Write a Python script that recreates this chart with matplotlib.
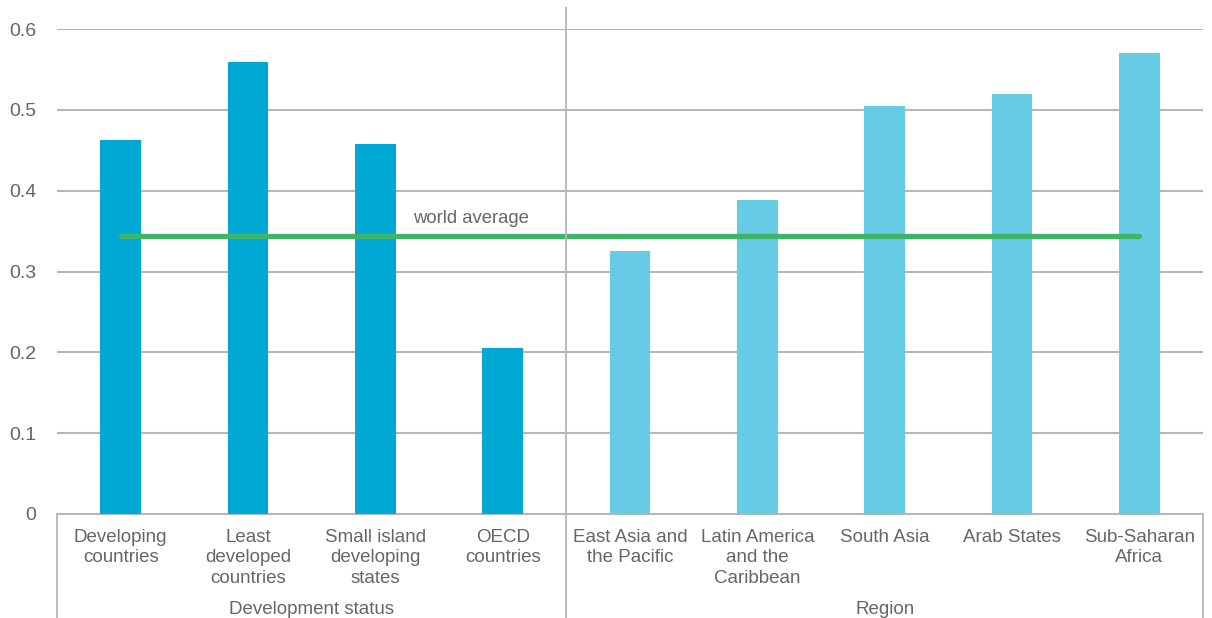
import matplotlib
matplotlib.use("Agg")
import matplotlib.pyplot as plt
from matplotlib.lines import Line2D

# values
categories = ["Developing\ncountries", "Least\ndeveloped\ncountries", "Small island\ndeveloping\nstates",
              "OECD\ncountries", "East Asia and\nthe Pacific", "Latin America\nand the\nCaribbean",
              "South Asia", "Arab States", "Sub-Saharan\nAfrica"]
values = [0.463, 0.559, 0.458, 0.205, 0.325, 0.389, 0.505, 0.519, 0.570]
groups = ["Development status", "Region"]
group_sizes = [4, 5]
world_average = 0.344
yticks = [0, 0.1, 0.2, 0.3, 0.4, 0.5, 0.6]

plt.rcParams['font.family'] = ['Liberation Sans', 'DejaVu Sans']
text_color = "#666666"
line_color = "#b4b8bb"

fig = plt.figure(figsize=(12.12, 6.18), dpi=100)
ax = fig.add_axes([57 / 1212, 104 / 618, 1146 / 1212, 485 / 618])

colors = ["#00a9d4"] * group_sizes[0] + ["#66cbe4"] * group_sizes[1]
x = list(range(len(categories)))
ax.bar(x, values, width=0.32, color=colors, zorder=2)
ax.plot([x[0], x[-1]], [world_average, world_average], color="#3fb468", lw=3.8,
        solid_capstyle="round", zorder=3)
ax.text(2.75, world_average + 0.011, "world average", ha="center", va="bottom",
        fontsize=13.3, color=text_color)

ax.set_xlim(-0.5, len(categories) - 0.5)
ax.set_ylim(0, 0.6)
ax.set_yticks(yticks)
ax.set_yticklabels([f"{t:g}" for t in yticks], fontsize=14, color=text_color)
ax.tick_params(axis="y", length=0, pad=15)
ax.set_xticks([])
ax.grid(axis="y", color=line_color, lw=1.5, zorder=0)
for s in ["top", "right", "left"]:
    ax.spines[s].set_visible(False)
ax.spines["bottom"].set_color(line_color)
ax.spines["bottom"].set_zorder(4)

# category labels
for i, c in enumerate(categories):
    ax.text(i, -0.018, c, ha="center", va="top", fontsize=13.5, color=text_color,
            linespacing=1.3)

# group labels and dividers
start = 0
bounds = [-0.5]
for g, n in zip(groups, group_sizes):
    mid = start + (n - 1) / 2
    ax.text(mid, -0.118, g, ha="center", va="center", fontsize=13.5, color=text_color)
    start += n
    bounds.append(start - 0.5)

for i, b in enumerate(bounds):
    xf = ax.transData.transform((b, 0))[0] / fig.dpi / fig.get_figwidth()
    top = 104 / 618 if i in (0, len(bounds) - 1) else 1 - 8 / 618
    fig.add_artist(Line2D([xf, xf], [0, top], color=line_color, lw=1.3, transform=fig.transFigure))

fig.savefig("out.png", dpi=100)
